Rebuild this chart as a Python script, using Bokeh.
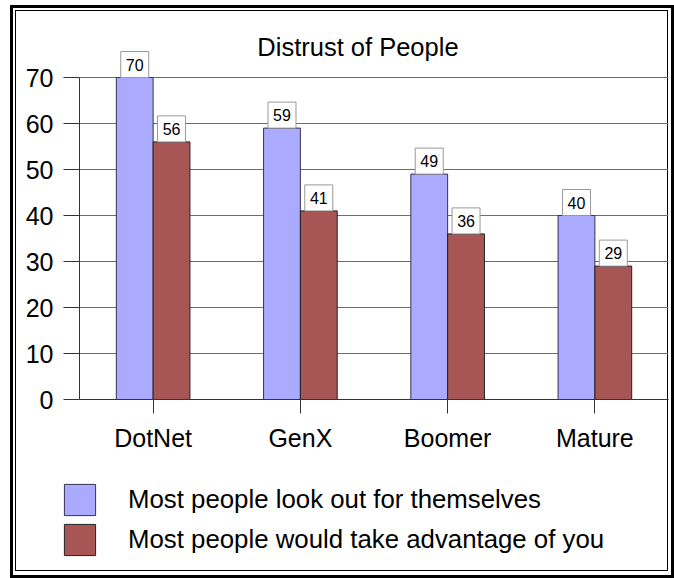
from bokeh.plotting import figure
from bokeh.models import (ColumnDataSource, FactorRange, Range1d, Legend, LegendItem,
                          Label, FixedTicker)
from bokeh.layouts import column
from bokeh.transform import dodge
from bokeh.core.properties import value
from bokeh.embed import file_html
from bokeh.resources import INLINE

# ---- data ----
categories = ["DotNet", "GenX", "Boomer", "Mature"]
look_out = [70, 59, 49, 40]
take_advantage = [56, 41, 36, 29]
series_names = ["Most people look out for themselves",
                "Most people would take advantage of you"]
title_text = "Distrust of People"
y_ticks = [0, 10, 20, 30, 40, 50, 60, 70]

FONT = "Liberation Sans"
BLUE = "#aaaaff"
RED = "#a85555"
BLUE_LINE = "#333355"
RED_LINE = "#222222"
BAR_W = 0.25

W, H = 674, 578
CH = 470                          # chart figure height
LH = H - CH                       # legend figure height
TOP, BOTTOM, LEFT, RIGHT = 20, 71, 79, 6
Y_MAX = 70
PLOT_H = 322                      # pixels from 0 to Y_MAX
FRAME_H = CH - TOP - BOTTOM
PPU = PLOT_H / Y_MAX
Y_END = FRAME_H / PPU

BOX_W, BOX_H = 28, 26
box_off = (BOX_H / 2) / PPU

src = ColumnDataSource(dict(
    cat=categories, a=look_out, b=take_advantage,
    a_txt=[str(v) for v in look_out], b_txt=[str(v) for v in take_advantage],
    a_ly=[v + box_off for v in look_out], b_ly=[v + box_off for v in take_advantage]))

p = figure(x_range=FactorRange(*categories, range_padding=0),
           y_range=Range1d(0, Y_END),
           width=W, height=CH, output_backend="svg", toolbar_location=None,
           min_border_left=LEFT, min_border_right=RIGHT, min_border_top=TOP,
           min_border_bottom=BOTTOM)
p.frame_align = False
p.border_fill_color = None
p.background_fill_color = None
p.outline_line_color = None
p.title.visible = False

# title (inside the frame area above the value axis)
p.add_layout(Label(x=1.891, y=Y_MAX + 31 / PPU, text=title_text,
                   text_font=FONT, text_font_size="25.5px", text_color="black",
                   text_align="center", text_baseline="alphabetic"))

# bars
r1 = p.vbar(x=dodge("cat", -BAR_W / 2, range=p.x_range), top="a", width=BAR_W,
            source=src, fill_color=BLUE, line_color=BLUE_LINE, line_width=1)
r2 = p.vbar(x=dodge("cat", BAR_W / 2, range=p.x_range), top="b", width=BAR_W,
            source=src, fill_color=RED, line_color=RED_LINE, line_width=1)

# value labels in boxes
for col_y, col_t, off in (("a_ly", "a_txt", -BAR_W / 2), ("b_ly", "b_txt", BAR_W / 2)):
    xs = dodge("cat", off, range=p.x_range)
    p.rect(x=xs, y=col_y, width=BOX_W, height=BOX_H, width_units="screen",
           height_units="screen", source=src, fill_color="white",
           line_color="#999999", line_width=1)
    p.text(x=xs, y=col_y, text=col_t, source=src, text_font=value(FONT),
           text_font_size=value("16px"), text_color="black",
           text_align="center", text_baseline="middle")

# axes
p.yaxis.ticker = FixedTicker(ticks=y_ticks)
p.yaxis.bounds = (0, Y_MAX)
p.yaxis.major_tick_out = 16
p.yaxis.major_tick_in = 0
p.yaxis.minor_tick_out = 0
p.yaxis.minor_tick_in = 0
p.yaxis.major_label_standoff = 10
p.yaxis.major_label_text_font = FONT
p.yaxis.major_label_text_font_size = "25px"
p.yaxis.major_label_text_color = "black"
p.yaxis.axis_line_color = "#333333"
p.yaxis.major_tick_line_color = "#333333"

p.xaxis.major_tick_out = 14
p.xaxis.major_tick_in = 0
p.xaxis.major_label_standoff = 10
p.xaxis.major_label_text_font = FONT
p.xaxis.major_label_text_font_size = "25px"
p.xaxis.major_label_text_color = "black"
p.xaxis.axis_line_color = "#333333"
p.xaxis.major_tick_line_color = "#333333"

p.xgrid.grid_line_color = None
p.ygrid.grid_line_color = "#6d6d6d"
p.ygrid.grid_line_width = 1
p.ygrid.bounds = (0, Y_MAX)

# legend figure (same series, renderers hidden, only the legend is shown)
p2 = figure(x_range=FactorRange(*categories, range_padding=0),
            y_range=Range1d(0, Y_MAX), width=W, height=LH,
            output_backend="svg", toolbar_location=None,
            x_axis_location=None, y_axis_location=None,
            min_border=0, min_border_left=0, min_border_right=0,
            min_border_top=0, min_border_bottom=0)
p2.frame_align = False
p2.border_fill_color = None
p2.background_fill_color = None
p2.outline_line_color = None
p2.grid.visible = False
p2.title.visible = False
lr1 = p2.vbar(x="cat", top="a", width=BAR_W, source=src, fill_color=BLUE,
              line_color=BLUE_LINE, visible=False)
lr2 = p2.vbar(x="cat", top="b", width=BAR_W, source=src, fill_color=RED,
              line_color=RED_LINE, visible=False)
legend = Legend(items=[LegendItem(label=series_names[0], renderers=[lr1]),
                       LegendItem(label=series_names[1], renderers=[lr2])],
                location=(60, 19), orientation="vertical",
                glyph_width=39, glyph_height=39, spacing=1, padding=0, margin=0,
                label_standoff=29, label_text_font=FONT,
                label_text_font_size="25.8px", label_text_color="black",
                background_fill_alpha=0, border_line_color=None,
                inactive_fill_alpha=0)
p2.add_layout(legend, "center")

layout = column(p, p2, spacing=0)
layout.styles = {"box-shadow": ", ".join([
    "inset 10px 0 0 0 white", "inset 0 5px 0 0 white",
    "inset 13px 0 0 0 black", "inset 0 8px 0 0 black",
    "inset -3px 0 0 0 black", "inset 0 -3px 0 0 black",
    "inset 15px 0 0 0 white", "inset 0 10px 0 0 white",
    "inset -6px 0 0 0 white", "inset 0 -7px 0 0 white",
    "inset 16px 0 0 0 black", "inset 0 11px 0 0 black",
    "inset -7px 0 0 0 black", "inset 0 -8px 0 0 black"])}

open("out.html", "w").write(file_html(layout, INLINE))
